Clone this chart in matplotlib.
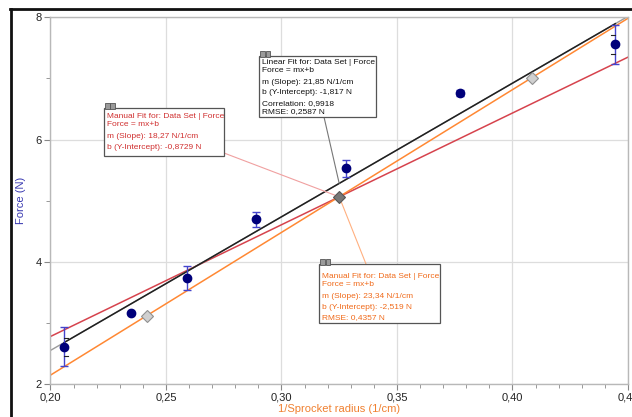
import matplotlib
matplotlib.use("Agg")
import matplotlib.pyplot as plt
import numpy as np
from matplotlib.lines import Line2D
from matplotlib.patches import Rectangle
from matplotlib.ticker import MultipleLocator, FuncFormatter

plt.rcParams['font.family'] = ['Liberation Sans', 'DejaVu Sans']

# data
inv_radius = [0.2059, 0.2347, 0.2592, 0.2891, 0.3279, 0.3775, 0.4445]
force = [2.615, 3.161, 3.738, 4.698, 5.532, 6.759, 7.56]
force_err = [0.32, 0.0, 0.20, 0.12, 0.14, 0.05, 0.32]
inner_err = [0.15, 0, 0, 0, 0, 0, 0.155]

lin_m, lin_b = 21.85, -1.817
red_m, red_b = 18.27, -0.8729
org_m, org_b = 23.34, -2.519
handle_x = [0.2417, 0.4084]
pivot_x = 0.325

W, H = 632, 417
fig = plt.figure(figsize=(W / 100, H / 100), dpi=100)


def fx(px):
    return px / W


def fy(py):
    return 1 - py / H


ax = fig.add_axes([fx(50.4), fy(384.3), fx(628) - fx(50.4), fy(17.3) - fy(384.3)])
ax.set_xlim(0.20, 0.45)
ax.set_ylim(2, 8)

xs = np.array([0.20, 0.45])
ax.plot(xs, red_m * xs + red_b, color='#d6434d', lw=1.1, zorder=2)
ax.plot(xs, org_m * xs + org_b, color='#ff8833', lw=1.1, zorder=2)
ax.plot(xs, lin_m * xs + lin_b, color='#9a9a9a', lw=1.0, zorder=2)
xd = np.array([min(inv_radius), max(inv_radius)])
ax.plot(xd, lin_m * xd + lin_b, color='#202020', lw=1.1, zorder=3)

ax.errorbar(inv_radius, force, yerr=force_err, fmt='o', color='#00007a',
            ms=6, ecolor='#4444cc', elinewidth=1.0, capsize=3, capthick=1.0, zorder=5)
for x, y, e in zip(inv_radius, force, inner_err):
    if e > 0:
        side = 1 if x < 0.3 else -1
        ax.plot([x, x + side * 0.0018], [y + e, y + e], color='#222222', lw=0.8, zorder=6)
        ax.plot([x, x + side * 0.0018], [y - e, y - e], color='#222222', lw=0.8, zorder=6)

hx = np.array(handle_x)
ax.plot(hx, org_m * hx + org_b, 'D', ms=6, mfc='#d0d0d0', mec='#909090', mew=0.8, zorder=6)
ax.plot([pivot_x], [org_m * pivot_x + org_b], 'D', ms=6, mfc='#777777', mec='#555555',
        mew=0.8, zorder=6)

ax.xaxis.set_major_locator(MultipleLocator(0.05))
ax.xaxis.set_minor_locator(MultipleLocator(0.01))
ax.yaxis.set_major_locator(MultipleLocator(2))
ax.yaxis.set_minor_locator(MultipleLocator(1))
ax.xaxis.set_major_formatter(FuncFormatter(lambda v, p: ('%.2f' % v).replace('.', ',')))
ax.yaxis.set_major_formatter(FuncFormatter(lambda v, p: '%d' % v))
ax.tick_params(which='major', length=4, color='#888888', labelsize=8, labelcolor='#222222', pad=2)
ax.tick_params(which='minor', length=3, color='#888888')
ax.grid(True, which='major', color='#dddddd', lw=0.9)
ax.set_axisbelow(True)
for s in ax.spines.values():
    s.set_color('#b8b8b8')
    s.set_linewidth(1.0)

ax.set_xlabel('1/Sprocket radius (1/cm)', fontsize=8, color='#f08030')
ax.set_ylabel('Force (N)', fontsize=8, color='#3838b0')
ax.xaxis.set_label_coords(0.5, (384.3 - 404.5) / 367)
ax.yaxis.set_label_coords((26 - 50.4) / 577.6, 0.5)

# leader lines from the annotation boxes
ax.annotate('', xy=(pivot_x, lin_m * pivot_x + lin_b), xycoords='data',
            xytext=(fx(324), fy(117)), textcoords='figure fraction',
            arrowprops=dict(arrowstyle='-', color='#777777', lw=0.8, shrinkA=0, shrinkB=0))
ax.annotate('', xy=(pivot_x, red_m * pivot_x + red_b), xycoords='data',
            xytext=(fx(224), fy(153)), textcoords='figure fraction',
            arrowprops=dict(arrowstyle='-', color='#f0a0a0', lw=0.8, shrinkA=0, shrinkB=0))
ax.annotate('', xy=(pivot_x, org_m * pivot_x + org_b), xycoords='data',
            xytext=(fx(366), fy(264)), textcoords='figure fraction',
            arrowprops=dict(arrowstyle='-', color='#ffb080', lw=0.8, shrinkA=0, shrinkB=0))


def box(x0, y0, x1, y1, lines, ys, color):
    fig.patches.append(Rectangle((fx(x0), fy(y1)), fx(x1) - fx(x0), fy(y0) - fy(y1),
                                 transform=fig.transFigure, facecolor='white',
                                 edgecolor='#555555', lw=0.9, zorder=10))
    for i in range(2):
        fig.patches.append(Rectangle((fx(x0 + 1 + i * 5.5), fy(y0 + 1)), fx(4.5), fy(0) - fy(6),
                                     transform=fig.transFigure, facecolor='#9a9a9a',
                                     edgecolor='#555555', lw=0.6, zorder=11))
    for t, yy in zip(lines, ys):
        fig.text(fx(x0 + 3), fy(yy), t, fontsize=6, color=color, va='center', ha='left', zorder=12)


box(259, 56, 376, 117,
    ['Linear Fit for: Data Set | Force', 'Force = mx+b',
     'm (Slope): 21,85 N/1/cm', 'b (Y-Intercept): -1,817 N',
     'Correlation: 0,9918', 'RMSE: 0,2587 N'],
    [62, 71, 82.7, 93, 103.3, 111.5], '#111111')
box(104, 108, 224, 156,
    ['Manual Fit for: Data Set | Force', 'Force = mx+b',
     'm (Slope): 18,27 N/1/cm', 'b (Y-Intercept): -0,8729 N'],
    [116, 125, 136.7, 147.3], '#d03030')
box(319, 264, 440, 323,
    ['Manual Fit for: Data Set | Force', 'Force = mx+b',
     'm (Slope): 23,34 N/1/cm', 'b (Y-Intercept): -2,519 N', 'RMSE: 0,4357 N'],
    [276, 285, 297, 307.7, 317.3], '#f06a1a')

# window border
fig.add_artist(Line2D([fx(10), 1], [fy(9), fy(9)], color='#111111', lw=2))
fig.add_artist(Line2D([fx(11), fx(11)], [fy(9), 0], color='#111111', lw=2))

fig.savefig('out.png', dpi=100)
